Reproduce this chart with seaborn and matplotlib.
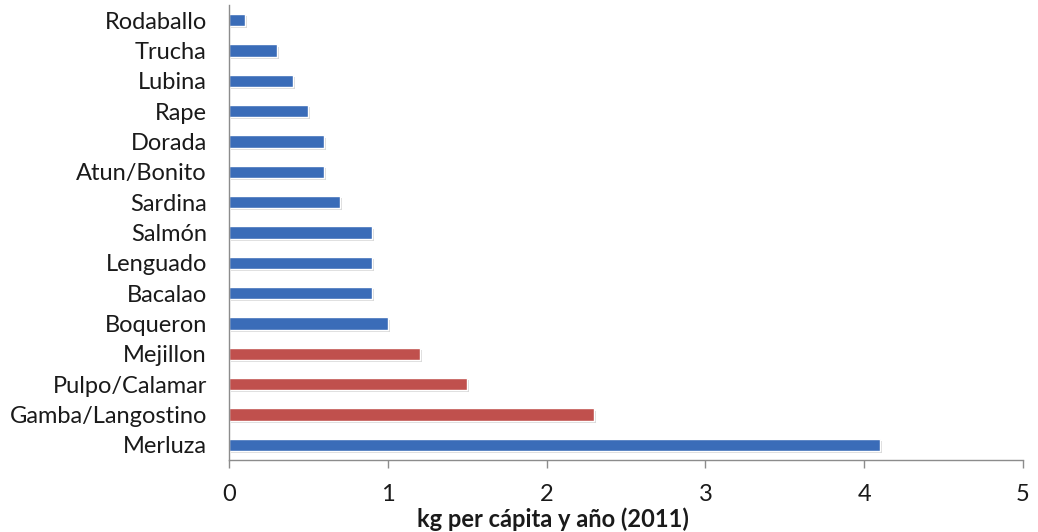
import matplotlib
matplotlib.use("Agg")
import matplotlib.pyplot as plt
import matplotlib.patheffects as pe
import seaborn as sns
import pandas as pd

especies = ["Rodaballo", "Trucha", "Lubina", "Rape", "Dorada", "Atun/Bonito",
            "Sardina", "Salmón", "Lenguado", "Bacalao", "Boqueron", "Mejillon",
            "Pulpo/Calamar", "Gamba/Langostino", "Merluza"]
consumo = [0.1, 0.3, 0.4, 0.5, 0.6, 0.6, 0.7, 0.9, 0.9, 0.9, 1.0, 1.2, 1.5, 2.3, 4.1]
grupo = ["pescado"] * 11 + ["marisco"] * 3 + ["pescado"]

df = pd.DataFrame({"especie": especies, "consumo": consumo, "grupo": grupo})

sns.set_theme(style="white")
plt.rcParams["font.family"] = ["Lato", "DejaVu Sans"]

fig = plt.figure(figsize=(10.38, 5.32), dpi=100)
ax = fig.add_axes([229 / 1038, 1 - 460 / 532, 794 / 1038, 455 / 532])

sns.barplot(data=df, x="consumo", y="especie", hue="grupo", orient="h",
            palette={"pescado": "#3A6CB8", "marisco": "#C0504D"},
            width=0.4, dodge=False, legend=False, ax=ax, saturation=1)

for bar in ax.patches:
    bar.set_path_effects([pe.SimplePatchShadow(offset=(1.5, -1.5), alpha=0.15,
                                               shadow_rgbFace="black"),
                          pe.Normal()])

ax.set_xlim(0, 5)
ax.set_ylim(14.5, -0.5)
ax.set_xticks(range(0, 6))
ax.tick_params(axis="x", direction="out", length=6, color="#8c8c8c", width=1,
               labelsize=17, pad=11, labelcolor="#1a1a1a", bottom=True)
ax.tick_params(axis="y", length=0, labelsize=17, pad=16, labelcolor="#1a1a1a")

for side in ("top", "right"):
    ax.spines[side].set_visible(False)
for side in ("left", "bottom"):
    ax.spines[side].set_color("#8c8c8c")
    ax.spines[side].set_linewidth(1)

ax.set_ylabel("")
ax.set_xlabel("kg per cápita y año (2011)", fontsize=17, fontweight="bold", color="#1a1a1a")
ax.xaxis.set_label_coords(0.408, -0.105)

fig.savefig("out.png", dpi=100)
